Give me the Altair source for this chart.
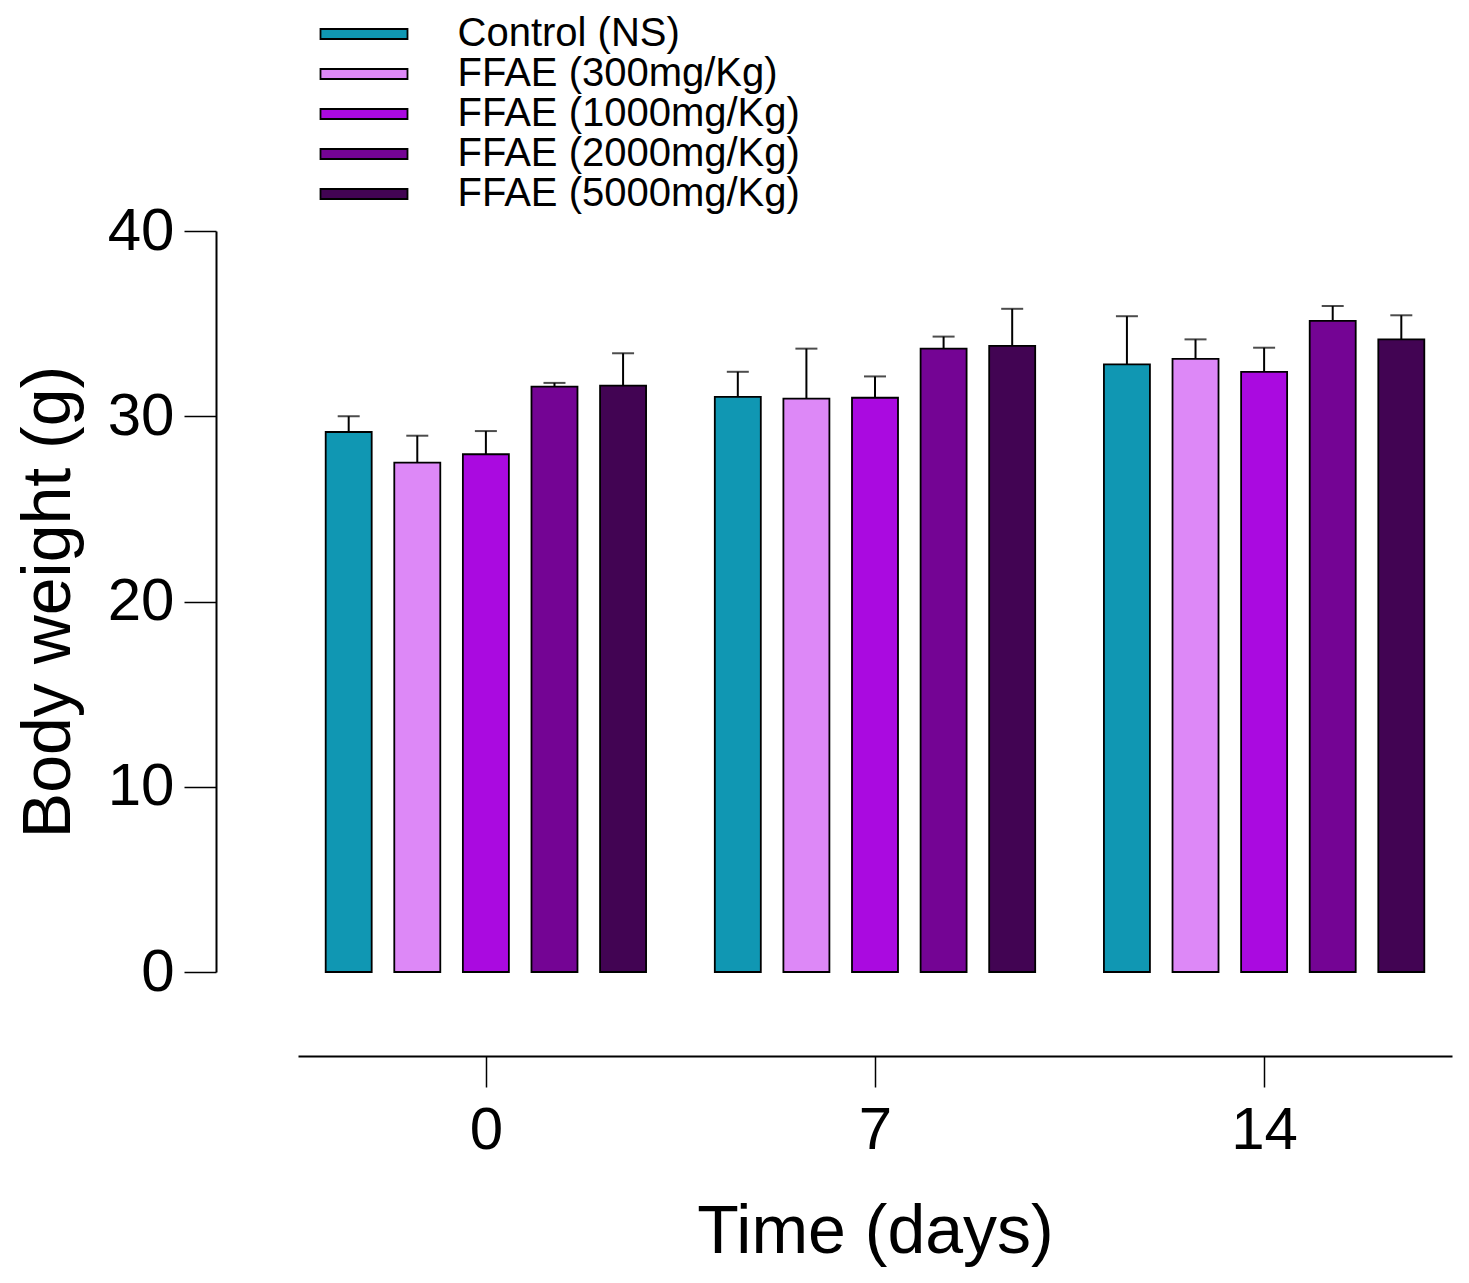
import altair as alt
import pandas as pd

groups = ["Control (NS)", "FFAE (300mg/Kg)", "FFAE (1000mg/Kg)", "FFAE (2000mg/Kg)", "FFAE (5000mg/Kg)"]
colors = ["#1097b3", "#dd88f7", "#aa0ae0", "#740494", "#420453"]
days = [0, 7, 14]
# mean body weight per group, one list per day
mean_d0 = [29.15, 27.5, 27.95, 31.6, 31.65]
mean_d7 = [31.05, 30.95, 31.0, 33.65, 33.8]
mean_d14 = [32.8, 33.1, 32.4, 35.15, 34.15]
# error (upper bar) per group
err_d0 = [0.85, 1.45, 1.25, 0.2, 1.75]
err_d7 = [1.35, 2.7, 1.15, 0.65, 2.0]
err_d14 = [2.6, 1.05, 1.3, 0.8, 1.3]

rows = []
for d, means, errs in zip(days, [mean_d0, mean_d7, mean_d14], [err_d0, err_d7, err_d14]):
    for k, (g, m, e) in enumerate(zip(groups, means, errs)):
        rows.append({"day": d, "group": g, "k": k, "mean": m, "hi": m + e})
df = pd.DataFrame(rows)

FONT = "Liberation Sans"
xscale = alt.Scale(domain=[-3.29, 17.29], nice=False, zero=False)
yscale = alt.Scale(domain=[0, 40], nice=False)

base = alt.Chart(df).transform_calculate(pos="datum.day + (datum.k - 2) * 1.234")

xax = alt.Axis(values=days, title="Time (days)", offset=84, tickSize=31, tickWidth=1.5,
               domainWidth=2, domainColor="black", tickColor="black", labelFontSize=60,
               labelPadding=14, titleFontSize=68, titleFontWeight="normal", titlePadding=38,
               labelColor="black", titleColor="black", grid=False)
yax = alt.Axis(values=[0, 10, 20, 30, 40], title="Body weight (g)", offset=82, tickSize=32,
               tickWidth=1.5, domainWidth=2, domainColor="black", tickColor="black",
               labelFontSize=60, labelPadding=10, titleFontSize=68, titleFontWeight="normal",
               titlePadding=24, labelColor="black", titleColor="black", grid=False)

bars = base.mark_bar(width=46, stroke="black", strokeWidth=1.8).encode(
    x=alt.X("pos:Q", scale=xscale, axis=xax),
    y=alt.Y("mean:Q", scale=yscale, axis=yax),
    color=alt.Color("group:N", scale=alt.Scale(domain=groups, range=colors),
                    sort=groups,
                    legend=alt.Legend(title=None, orient="none", legendX=46, legendY=-217,
                                      padding=0, symbolType="M-4.35,-0.5H4.35V0.5H-4.35Z",
                                      symbolSize=400, symbolStrokeColor="black",
                                      symbolStrokeWidth=1.8, symbolOpacity=1,
                                      labelFontSize=40, labelOffset=73.5, labelColor="black",
                                      rowPadding=0, labelLimit=600)),
)

errs = base.mark_rule(color="black", strokeWidth=2).encode(
    x="pos:Q", y="mean:Q", y2="hi:Q"
)
caps = base.mark_tick(color="black", thickness=2, size=22, orient="horizontal").encode(
    x="pos:Q", y="hi:Q"
)

chart = alt.layer(errs, caps, bars).properties(
    width=1154, height=741,
    padding={"left": 7, "top": 6, "right": 5, "bottom": 5},
).configure(font=FONT).configure_view(strokeWidth=0, stroke="transparent")

chart.save("out.html", embed_options={"renderer": "svg", "actions": False})
